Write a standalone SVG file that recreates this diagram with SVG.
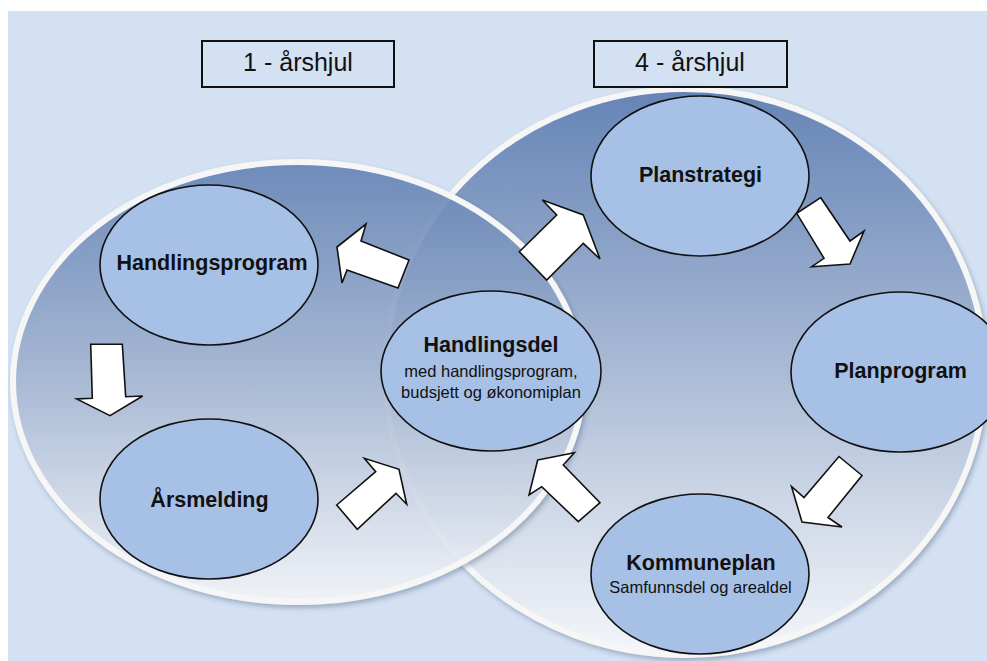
<svg xmlns="http://www.w3.org/2000/svg" width="987" height="661" viewBox="0 0 987 661">
  <defs>
    <linearGradient id="gL" x1="0" y1="0" x2="0" y2="1">
      <stop offset="0" stop-color="#6685b7"/>
      <stop offset="0.45" stop-color="#a0b3d1"/>
      <stop offset="0.85" stop-color="#e0e6f0"/>
      <stop offset="1" stop-color="#f6f8fb"/>
    </linearGradient>
    <linearGradient id="gR" x1="0" y1="0" x2="0" y2="1">
      <stop offset="0" stop-color="#6584b6"/>
      <stop offset="0.45" stop-color="#a3b5d2"/>
      <stop offset="0.85" stop-color="#dfe5ef"/>
      <stop offset="1" stop-color="#f4f6fa"/>
    </linearGradient>
    <filter id="sh" x="-10%" y="-10%" width="120%" height="120%">
      <feDropShadow dx="2" dy="3" stdDeviation="2.5" flood-color="#31486e" flood-opacity="0.35"/>
    </filter>
  </defs>
  <style>
    .wheel { stroke: #f6f6f6; stroke-width: 6; }
    .node { fill: #a7c0e5; stroke: #111; stroke-width: 1.6; }
    .arr { fill: #ffffff; stroke: #111; stroke-width: 1.6; stroke-linejoin: miter; }
    .title { fill: none; stroke: #111; stroke-width: 2; }
    .tt { font-family: "Liberation Sans", Arial, sans-serif; font-size: 25px; fill: #111; text-anchor: middle; }
    .lb { font-family: "Liberation Sans", Arial, sans-serif; font-size: 21.5px; font-weight: bold; fill: #111; text-anchor: middle; }
    .sb { font-family: "Liberation Sans", Arial, sans-serif; font-size: 16.5px; fill: #111; text-anchor: middle; }
  </style>

  <rect x="0" y="0" width="987" height="661" fill="#ffffff"/>
  <rect x="8" y="11" width="979" height="650" fill="#d4e1f2"/>

  <g id="wheels">
    <ellipse class="wheel" cx="685" cy="372" rx="300" ry="283" fill="url(#gR)" filter="url(#sh)"/>
    <ellipse class="wheel" cx="298" cy="382" rx="285" ry="220" fill="url(#gL)" fill-opacity="0.88" filter="url(#sh)"/>
  </g>

  <g id="title-1">
    <rect class="title" x="202" y="41" width="192" height="46"/>
    <text class="tt" x="298" y="71">1 - årshjul</text>
  </g>
  <g id="title-4">
    <rect class="title" x="594" y="41" width="193" height="46"/>
    <text class="tt" x="690" y="71">4 - årshjul</text>
  </g>

  <g id="connectors">
    <polygon class="arr" points="337,247 366,224 361,241 409,260 398,288 347,270 342,283"/>
    <polygon class="arr" points="90.7,344.3 122.3,344.3 125.7,396.7 142.7,396 110,415.7 76.7,399 92.3,398.3"/>
    <polygon class="arr" points="399,469.3 406.7,504.3 396,493.3 357.3,529.3 336.7,505 375.7,471.7 364.3,458.3"/>
    <polygon class="arr" points="583.3,215 600,259 583.3,243.3 546.7,280 519.3,251.7 556.7,215 542.3,200"/>
    <polygon class="arr" points="850,264 811.7,266.7 824,258.3 796.7,213.3 820.7,197.7 850,241 864,231"/>
    <polygon class="arr" points="802,522 791.5,486.5 804,497.5 839,456.5 862,475.5 828,517.5 842,527"/>
    <polygon class="arr" points="537.7,460 574.3,452.7 563.3,465 600,502.7 578.3,521.7 541.7,486.7 529,495"/>
  </g>

  <g id="node-handlingsprogram">
    <ellipse class="node" cx="209" cy="265" rx="109" ry="80"/>
    <text class="lb" x="212" y="270">Handlingsprogram</text>
  </g>
  <g id="node-arsmelding">
    <ellipse class="node" cx="209" cy="499" rx="109" ry="80"/>
    <text class="lb" x="209.5" y="507">Årsmelding</text>
  </g>
  <g id="node-handlingsdel">
    <ellipse class="node" cx="491" cy="371" rx="110" ry="80"/>
    <text class="lb" x="491" y="352">Handlingsdel</text>
    <text class="sb" x="491" y="377">med handlingsprogram,</text>
    <text class="sb" x="491" y="398">budsjett og økonomiplan</text>
  </g>
  <g id="node-planstrategi">
    <ellipse class="node" cx="700" cy="176" rx="109" ry="80"/>
    <text class="lb" x="700.5" y="182">Planstrategi</text>
  </g>
  <g id="node-planprogram">
    <ellipse class="node" cx="900" cy="372" rx="109" ry="80"/>
    <text class="lb" x="900.5" y="378">Planprogram</text>
  </g>
  <g id="node-kommuneplan">
    <ellipse class="node" cx="700" cy="574" rx="109" ry="80"/>
    <text class="lb" x="701" y="570">Kommuneplan</text>
    <text class="sb" x="700.5" y="593">Samfunnsdel og arealdel</text>
  </g>
</svg>
